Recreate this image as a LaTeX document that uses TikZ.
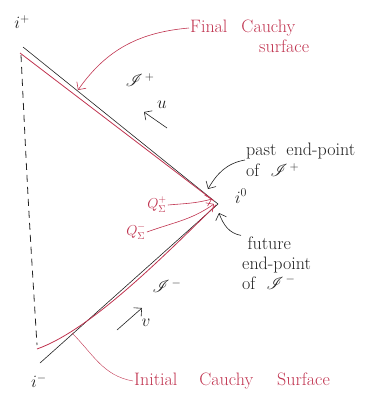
\documentclass[tikz,border=0pt]{standalone}
\usepackage{amsmath,amssymb}
\usepackage{mathrsfs}
\usepackage{xcolor}
\usetikzlibrary{arrows.meta,positioning}
\definecolor{inkred}{HTML}{C0334F}
\definecolor{inkx}{HTML}{222222}
\tikzset{
  bnd/.style={inkx,semithick},
  csurf/.style={inkred,thick},
  rar/.style={-{Straight Barb[length=2mm]},inkred,semithick},
  bar/.style={-{Straight Barb[length=2mm]},inkx,semithick},
  lab/.style={font=\fontsize{17}{19}\selectfont,inkx,inner sep=1pt},
  note/.style={font=\fontsize{18}{19}\selectfont,inkx,align=left,inner sep=1pt},
  rnote/.style={font=\fontsize{18}{20}\selectfont,inkred,align=left,inner sep=1pt}
}
\begin{document}
\begin{tikzpicture}[x=1pt,y=-1pt]
\useasboundingbox (0,0) rectangle (388,400);
% corner points
\coordinate (top) at (23,47);
\coordinate (io) at (218,204);
\coordinate (bot) at (40,363);
\node[lab] (ip) at (22,22) {$i^+$};
\node[lab] (i0) at (241,196) {$i^0$};
\node[lab] (im) at (39,381) {$i^-$};
% null infinity and axis
\draw[bnd] (top) -- (io) -- (bot);
\draw[bnd,thick,dash pattern=on 7pt off 5pt] (21,55) .. controls (28,200) .. (37,345);
% Cauchy surfaces
\draw[csurf] (20,53) -- (214,201);
\draw[csurf] (37,349) .. controls (90,330) and (160,260) .. (216,205);
% labels on the sides
\node[lab] (scp) at (140,80) {$\mathscr{I}^{\,+}$};
\node[lab] (scm) at (167,286) {$\mathscr{I}^{\,-}$};
\node[note] (u) at (162,105) {$u$};
\node[note] (v) at (146,323) {$v$};
\coordinate (ua) at (167,128);
\coordinate (ub) at (144,112);
\coordinate (va) at (117,330);
\coordinate (vb) at (142,308);
\draw[bar] (ua) -- (ub);
\draw[bar] (va) -- (vb);
% notes
\node[rnote,anchor=west] (fin) at (189,28) {Final\hspace{14pt}Cauchy};
\node[rnote,anchor=west] (fin2) at (258,46) {surface};
\coordinate (fc) at (78,90);
\draw[rar] (fin.west) to[out=185,in=55] (fc);
\node[rnote,anchor=west] (ini) at (133,381) {Initial\hspace{22pt}Cauchy\hspace{24pt}Surface};
\coordinate (ic) at (72,333);
\draw[inkred,thin] (ic) to[out=-45,in=170] (ini.west);
\node[rnote,font=\fontsize{14}{16}\selectfont] (qp) at (157,205) {$Q_\Sigma^+$};
\node[rnote,font=\fontsize{14}{16}\selectfont] (qm) at (136,232) {$Q_\Sigma^-$};
\draw[rar] (qp.east) to[out=5,in=195] (212,199);
\draw[rar] (qm.east) to[out=20,in=215] (214,204);
\node[note,anchor=west] (past) at (245,160) {past\hspace{10pt}end-point\\[2pt]of\ \ $\mathscr{I}^{\,+}$};
\draw[bar] (past.west) to[out=190,in=60] (208,189);
\node[note,anchor=west] (fut) at (241,263) {\ future\\[1pt]end-point\\[1pt]of\ \ $\mathscr{I}^{\,-}$};
\draw[bar] (fut.north west) to[out=170,in=-70] (219,213);
\end{tikzpicture}
\end{document}
